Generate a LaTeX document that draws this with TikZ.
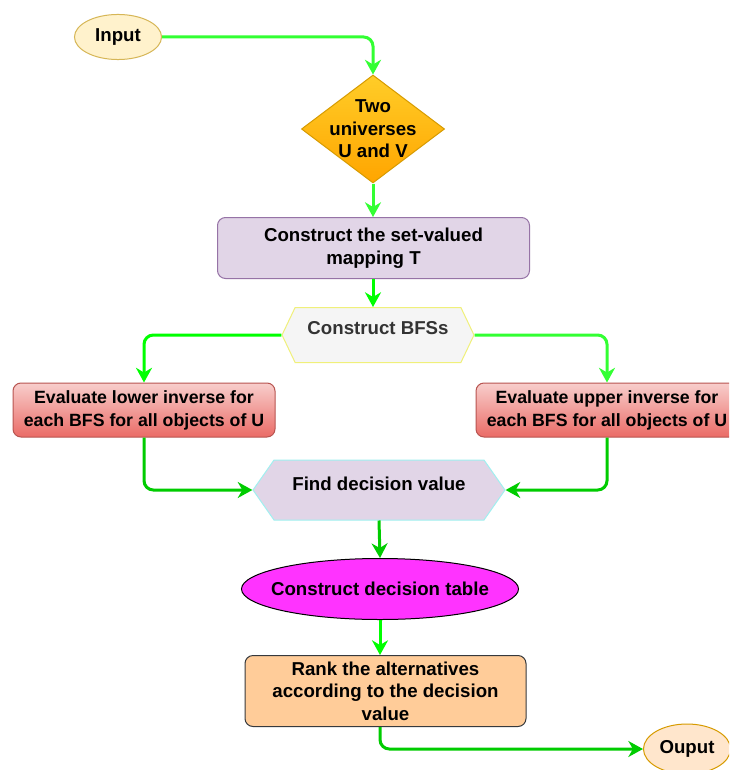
\documentclass[tikz,border=0pt]{standalone}
\usepackage{fontspec}
\setmainfont{Liberation Sans}
\usetikzlibrary{arrows.meta}
\usetikzlibrary{shapes.geometric,shapes.symbols}
\definecolor{inputfill}{HTML}{FFF2CC}
\definecolor{inputdraw}{HTML}{D6B656}
\definecolor{diatop}{HTML}{FFCD28}
\definecolor{diabot}{HTML}{FFA500}
\definecolor{diadraw}{HTML}{D79B00}
\definecolor{lilac}{HTML}{E1D5E7}
\definecolor{lilacdraw}{HTML}{9673A6}
\definecolor{bfsfill}{HTML}{F5F5F5}
\definecolor{bfsdraw}{HTML}{F0F07A}
\definecolor{txtgray}{HTML}{333333}
\definecolor{redtop}{HTML}{F8CECC}
\definecolor{redbot}{HTML}{EA6B66}
\definecolor{reddraw}{HTML}{B85450}
\definecolor{cyandraw}{HTML}{A0F0F0}
\definecolor{magfill}{HTML}{FF33FF}
\definecolor{rankfill}{HTML}{FFCC99}
\definecolor{rankdraw}{HTML}{36393D}
\definecolor{outfill}{HTML}{FFE6CC}
\definecolor{litegreen}{HTML}{33FF33}
\definecolor{brightgreen}{HTML}{00FF00}
\definecolor{darkgreen}{HTML}{00CC00}
\tikzset{
 conn/.style={line width=2.25pt, -{Stealth[length=11pt, width=12pt, inset=3.5pt]}, rounded corners=7pt},
 box/.style={rectangle, rounded corners=6pt, line width=.75pt, align=center},
 redbox/.style={box, draw=reddraw, top color=redtop, bottom color=redbot, minimum width=196.5pt, minimum height=40.5pt, font=\bfseries\fontsize{13.3}{17.25}\selectfont},
 hexa/.style={signal, signal to=west and east, line width=.75pt, inner sep=0pt}
}
\begin{document}
\begin{tikzpicture}[x=.75pt, y=-.75pt, font=\bfseries\fontsize{14}{16.9}\selectfont]
\clip (0,0) rectangle (729,770);
\fill[white] (0,0) rectangle (729,770);

\node[ellipse, draw=inputdraw, fill=inputfill, line width=.75pt, minimum width=65.3pt, minimum height=33.8pt, inner sep=0pt] (input) at (118,37) {Input};
\node[diamond, draw=diadraw, top color=diatop, bottom color=diabot, line width=.75pt, minimum width=107.3pt, minimum height=81pt, inner sep=0pt,
 label={[align=center]center:Two\\universes\\U and V}] (two) at (373,129) {};
\node[box, draw=lilacdraw, fill=lilac, minimum width=234pt, minimum height=45.75pt] (map) at (373.5,248) {Construct the set-valued\\mapping T};
\node[hexa, draw=bfsdraw, fill=bfsfill, signal pointer angle=129, minimum width=144pt, minimum height=41.25pt,
 label={[yshift=5pt, text=txtgray]center:Construct BFSs}] (bfs) at (378,335) {};
\node[redbox] (low) at (144,410) {Evaluate lower inverse for\\each BFS for all objects of U};
\node[redbox] (up) at (607,410) {Evaluate upper inverse for\\each BFS for all objects of U};
\node[hexa, draw=cyandraw, fill=lilac, signal pointer angle=110, minimum width=189pt, minimum height=45pt,
 label={[yshift=5pt]center:Find decision value}] (find) at (379,490) {};
\node[ellipse, draw=black, fill=magfill, line width=.75pt, minimum width=207.75pt, minimum height=45.75pt, inner sep=0pt,
 label=center:Construct decision table] (tab) at (380,589) {};
\node[box, draw=rankdraw, fill=rankfill, minimum width=210.75pt, minimum height=53.25pt] (rank) at (385.5,691) {Rank the alternatives\\according to the decision\\value};
\node[ellipse, draw=diadraw, fill=outfill, line width=.75pt, minimum width=65.3pt, minimum height=37.5pt, inner sep=0pt] (out) at (687,749) {Ouput};

% connectors
\draw[conn, litegreen] (input.east) -| (two.north);
\draw[conn, litegreen] (two.south) -- (map.north -| two.south);
\draw[conn, brightgreen] (map.south -| two.south) -- (bfs.north -| two.south);
\draw[conn, brightgreen] (bfs.west) -| (low.north);
\draw[conn, litegreen] (bfs.east) -| (up.north);
\draw[conn, darkgreen] (low.south) |- (find.west);
\draw[conn, darkgreen] (up.south) |- (find.east);
\draw[conn, darkgreen] (find.south) -- (tab.north);
\draw[conn, brightgreen] (tab.south) -- (rank.north -| tab.south);
\draw[conn, darkgreen] (rank.south -| tab.south) |- (out.west);
\end{tikzpicture}
\end{document}
